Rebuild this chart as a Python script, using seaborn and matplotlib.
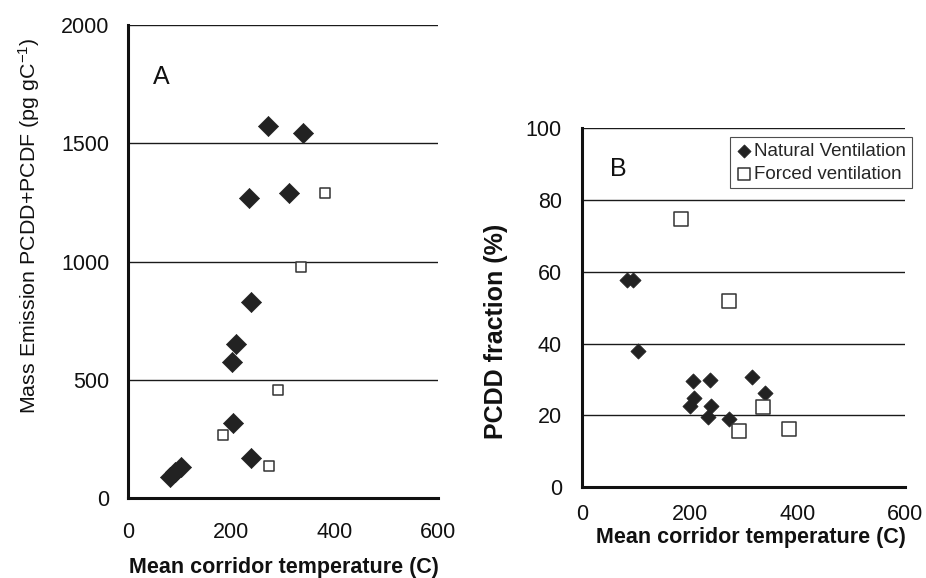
import matplotlib
matplotlib.use("Agg")
import matplotlib.pyplot as plt
import seaborn as sns
import numpy as np

# panel A: mass emission vs temperature
nat_temp_a = [81, 91, 102, 201, 203, 209, 234, 238, 238, 271, 312, 339]
nat_mass = [89, 110, 131, 575, 317, 651, 1268, 829, 169, 1573, 1290, 1543]
forced_temp_a = [381, 335, 290, 184, 273]
forced_mass = [1290, 977, 457, 266, 135]

# panel B: PCDD fraction vs temperature
nat_temp_b = [83, 95, 104, 201, 206, 208, 234, 238, 240, 273, 316, 340]
nat_frac = [57.7, 57.7, 37.9, 22.6, 29.6, 24.8, 19.6, 29.8, 22.6, 18.9, 30.7, 26.3]
forced_temp_b = [184, 273, 336, 292, 385]
forced_frac = [74.7, 52.0, 22.3, 15.7, 16.1]

sns.set_style("white")
plt.rcParams['font.family'] = ['Liberation Sans', 'DejaVu Sans']
plt.rcParams['mathtext.fontset'] = 'custom'
plt.rcParams['mathtext.rm'] = 'Liberation Sans'
plt.rcParams['mathtext.it'] = 'Liberation Sans'

fig = plt.figure(figsize=(9.26, 5.78), dpi=100)
ax_a = fig.add_axes([0.138, 0.1384, 0.335, 0.818])
ax_b = fig.add_axes([0.6285, 0.157, 0.349, 0.621])

dark = '#222222'
edge = '#333333'


def style_axis(ax, ymax, ystep, xpad, ypad):
    ax.set_xlim(0, 600)
    ax.set_ylim(0, ymax)
    ax.set_xticks([0, 200, 400, 600])
    ax.set_yticks(np.arange(0, ymax + 1, ystep))
    for y in np.arange(ystep, ymax + 1, ystep):
        ax.axhline(y, color='#1a1a1a', lw=1.0, zorder=0)
    for s in ['top', 'right']:
        ax.spines[s].set_visible(False)
    for s in ['left', 'bottom']:
        ax.spines[s].set_linewidth(2.2)
        ax.spines[s].set_color('#111111')
    ax.tick_params(axis='both', direction='out', length=4.5, width=2,
                   color='#111111', labelsize=15.5, labelcolor='#111111')
    ax.tick_params(axis='x', pad=xpad)
    ax.tick_params(axis='y', pad=ypad)
    ax.set_xlabel('Mean corridor temperature (C)', fontsize=15.5,
                  fontweight='bold', color='#111111')
    ax.xaxis.label.set_va('center')


sns.scatterplot(x=nat_temp_a, y=nat_mass, marker='D', s=105, color=dark,
                edgecolor=dark, linewidth=0.5, ax=ax_a, zorder=3)
sns.scatterplot(x=forced_temp_a, y=forced_mass, marker='s', s=55,
                facecolor='white', edgecolor=edge, linewidth=1.1, ax=ax_a,
                zorder=3)
style_axis(ax_a, 2000, 500, 13, 8.5)
ax_a.xaxis.set_label_coords(0.502, -0.146)
ax_a.set_ylabel(r'Mass Emission PCDD+PCDF (pg gC$^{-1}$)',
                fontsize=15.4, color='#111111')
ax_a.yaxis.label.set_va('center')
ax_a.yaxis.set_label_coords(-0.318, 0.576)
ax_a.text(48, 1830, 'A', fontsize=18, va='top', ha='left', color='#111111')

sns.scatterplot(x=nat_temp_b, y=nat_frac, marker='D', s=60, color=dark,
                edgecolor=dark, linewidth=0.5, ax=ax_b, zorder=3,
                label='Natural Ventilation')
sns.scatterplot(x=forced_temp_b, y=forced_frac, marker='s', s=100,
                facecolor='white', edgecolor=edge, linewidth=1.1, ax=ax_b,
                zorder=3, label='Forced ventilation')
style_axis(ax_b, 100, 20, 7.7, 10)
ax_b.xaxis.set_label_coords(0.523, -0.139)
ax_b.set_ylabel('PCDD fraction (%)', fontsize=18, fontweight='bold',
                color='#111111')
ax_b.yaxis.label.set_va('center')
ax_b.yaxis.set_label_coords(-0.266, 0.435)
ax_b.text(52, 92, 'B', fontsize=18, va='top', ha='left', color='#111111')

leg = ax_b.legend(loc='upper right', bbox_to_anchor=(1.02, 0.975),
                  fontsize=13.5, frameon=True, fancybox=False,
                  handletextpad=0.1, borderpad=0.3, labelspacing=0.3,
                  handlelength=0.9, borderaxespad=0)
leg.get_frame().set_edgecolor('#222222')
leg.get_frame().set_linewidth(0.8)
leg.legend_handles[0].set_sizes([45])
leg.legend_handles[1].set_sizes([70])

fig.savefig('out.png', dpi=100)
